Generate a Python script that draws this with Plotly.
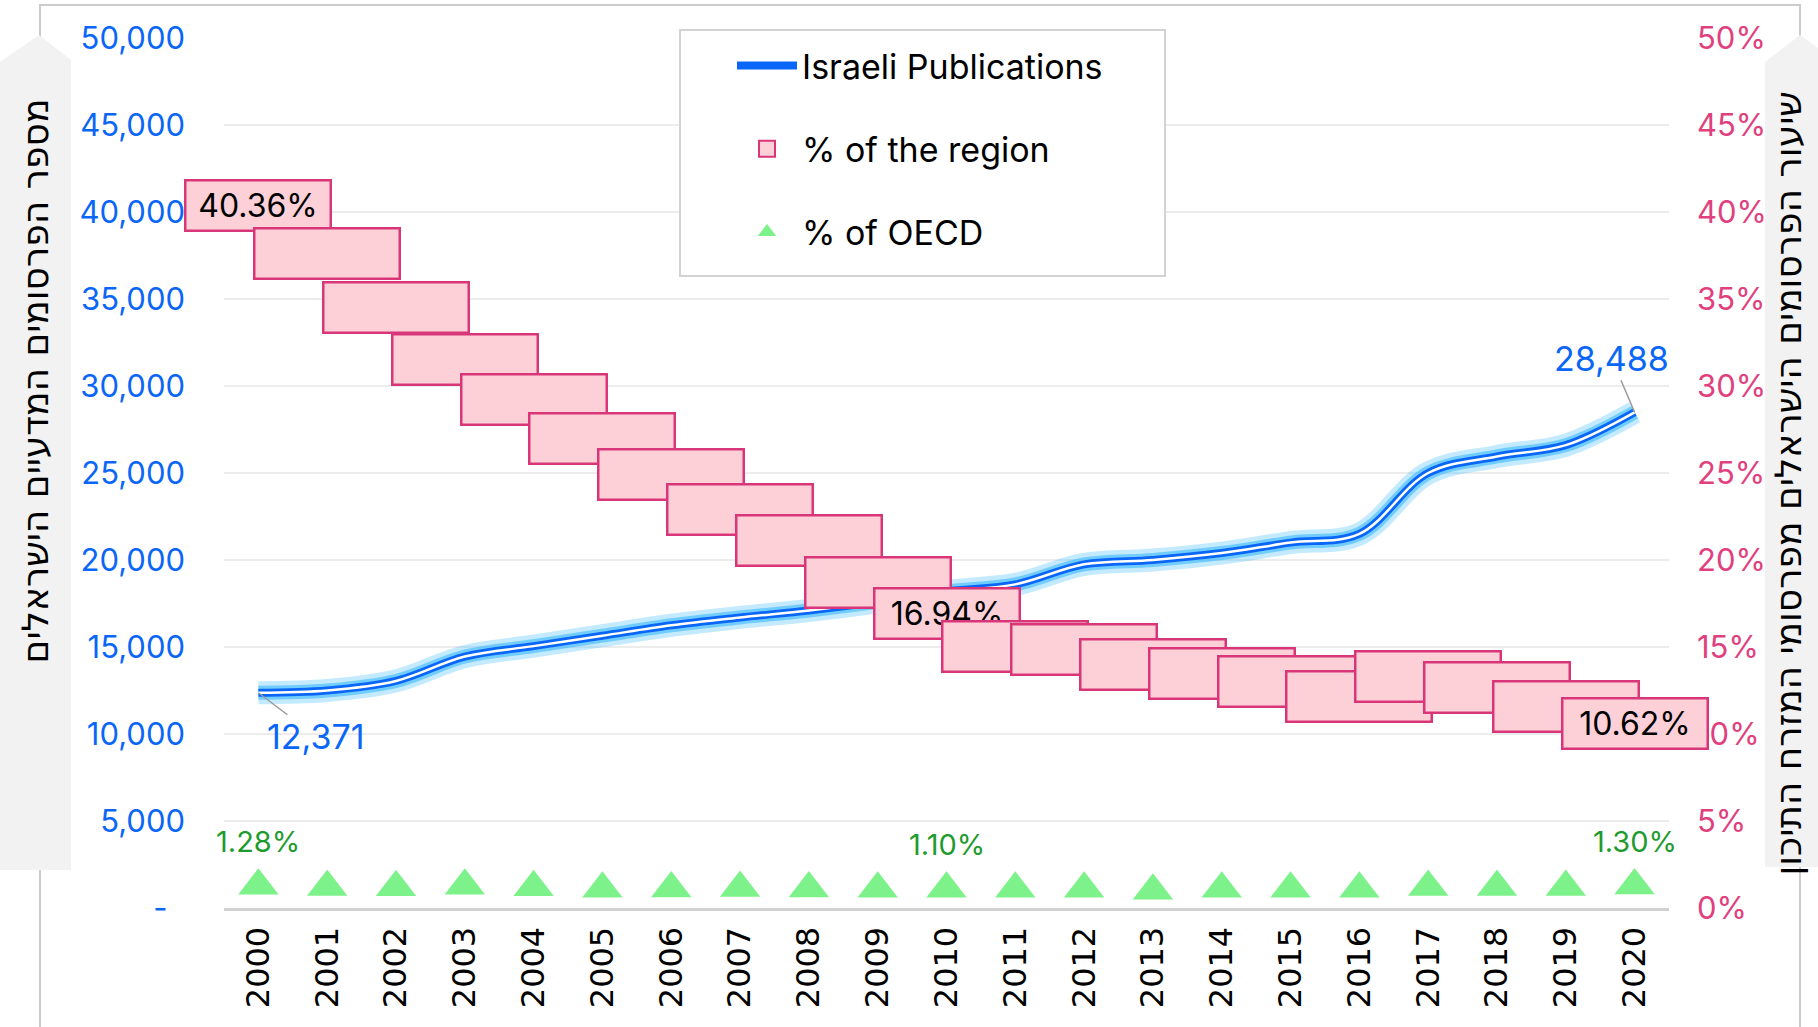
import plotly.graph_objects as go

# ---------------- data ----------------
years = ["2000", "2001", "2002", "2003", "2004", "2005", "2006", "2007", "2008", "2009",
         "2010", "2011", "2012", "2013", "2014", "2015", "2016", "2017", "2018", "2019", "2020"]
publications = [12371, 12500, 13050, 14450, 15050, 15650, 16250, 16700, 17100, 17600,
                18200, 18600, 19750, 20000, 20400, 21000, 21500, 25000, 25950, 26600, 28488]
region_pct = [40.36, 37.6, 34.5, 31.5, 29.2, 27.0, 24.9, 22.9, 21.1, 18.7,
              16.94, 15.05, 14.84, 14.0, 13.5, 13.04, 12.17, 13.3, 12.7, 11.58, 10.62]
oecd_pct = [1.28, 1.21, 1.19, 1.28, 1.19, 1.10, 1.12, 1.15, 1.12, 1.10,
            1.10, 1.10, 1.10, 0.99, 1.10, 1.10, 1.10, 1.21, 1.21, 1.21, 1.30]
left_tickvals = [0, 5000, 10000, 15000, 20000, 25000, 30000, 35000, 40000, 45000, 50000]
left_ticktext = ["-\u00a0\u00a0", "5,000", "10,000", "15,000", "20,000", "25,000",
                 "30,000", "35,000", "40,000", "45,000", "50,000"]
right_tickvals = [0, 5, 10, 15, 20, 25, 30, 35, 40, 45, 50]
right_ticktext = ["0%", "5%", "10%", "15%", "20%", "25%", "30%", "35%", "40%", "45%", "50%"]
labelled_idx = [0, 10, 20]          # points whose values are printed
series_names = ["Israeli Publications", "% of the region", "% of OECD"]
left_title = "מספר הפרסומים המדעיים הישראלים"
right_title = "שיעור הפרסומים הישראלים מפרסומי המזרח התיכון"

# ---------------- style ----------------
W, H = 1818, 1027
ML, MR, MT, MB = 224, 149, 38, 119
BLUE = "#0a66f7"
PINK_TXT = "#e0417e"
PINK_FILL = "#fdd0d8"
PINK_LINE = "#d9367a"
GREEN = "#7ef28a"
GREEN_TXT = "#1e9b2e"
NUMFONT = "Inter"


def px(X):
    return (X - ML) / (W - ML - MR)


def py(Y):
    return (H - MB - Y) / (H - MT - MB)


fig = go.Figure()

# glow under the publications line
fig.add_trace(go.Scatter(x=years, y=publications, mode="lines", showlegend=False, hoverinfo="skip",
                         line=dict(color="rgba(60,185,255,0.30)", width=23, shape="spline")))
fig.add_trace(go.Scatter(x=years, y=publications, mode="lines", showlegend=False, hoverinfo="skip",
                         line=dict(color="rgba(60,185,255,0.60)", width=14, shape="spline")))
fig.add_trace(go.Scatter(x=years, y=publications, mode="lines", name=series_names[0],
                         legendgroup="a", line=dict(color=BLUE, width=8, shape="spline")))
fig.add_trace(go.Scatter(x=years, y=publications, mode="lines", showlegend=False, legendgroup="a",
                         hoverinfo="skip", line=dict(color="white", width=2.5, shape="spline")))
fig.add_trace(go.Scatter(x=years, y=region_pct, yaxis="y2", mode="markers", name=series_names[1],
                         legendgroup="b",
                         marker=dict(symbol="square", size=18, color=PINK_FILL,
                                     line=dict(color=PINK_LINE, width=2))))
fig.add_trace(go.Scatter(x=years, y=oecd_pct, yaxis="y2", mode="markers", name=series_names[2],
                         legendgroup="c",
                         marker=dict(symbol="triangle-up", size=35, color=GREEN,
                                     line=dict(width=0))))

annotations = []
# pink label boxes for the region series
for i, v in enumerate(region_pct):
    annotations.append(dict(
        x=i, y=v, xref="x", yref="y2", showarrow=False,
        text=(f"{v:.2f}%" if i in labelled_idx else "\u00a0"),
        font=dict(family=NUMFONT, size=32, color="black"),
        bgcolor=PINK_FILL, bordercolor=PINK_LINE, borderwidth=2.5, borderpad=0,
        width=143, height=48, align="center", valign="middle"))
# OECD labels
for i in labelled_idx:
    annotations.append(dict(
        x=i, y=oecd_pct[i], xref="x", yref="y2", showarrow=False, yshift=44,
        text=f"{oecd_pct[i]:.2f}%", font=dict(family=NUMFONT, size=29, color=GREEN_TXT)))
# publication end labels
annotations.append(dict(x=0, y=publications[0], xref="x", yref="y",
                        text=f"{publications[0]:,}", showarrow=True, arrowhead=0,
                        arrowwidth=1.5, arrowcolor="#9a9a9a", ax=58, ay=44, standoff=0,
                        font=dict(family=NUMFONT, size=34, color=BLUE)))
annotations.append(dict(x=len(years) - 1, y=publications[-1], xref="x", yref="y",
                        text=f"{publications[-1]:,}", showarrow=True, arrowhead=0,
                        arrowwidth=1.5, arrowcolor="#9a9a9a", ax=-23, ay=-54, standoff=0,
                        font=dict(family=NUMFONT, size=34, color=BLUE)))
# axis titles
annotations.append(dict(x=px(12), y=py(381), xref="paper", yref="paper", showarrow=False,
                        text=left_title, textangle=-90,
                        font=dict(family="DejaVu Sans", size=36, color="black")))
annotations.append(dict(x=px(1810), y=py(484), xref="paper", yref="paper", showarrow=False,
                        text=right_title, textangle=-90,
                        font=dict(family="DejaVu Sans", size=36, color="black")))

shapes = [
    # outer frame
    dict(type="rect", xref="paper", yref="paper", x0=px(40), x1=px(1800), y0=py(1060), y1=py(5),
         line=dict(color="#cccccc", width=2), fillcolor="rgba(0,0,0,0)", layer="below"),
    # title bands
    dict(type="path", xref="paper", yref="paper", layer="below",
         path=f"M{px(0)},{py(62)} L{px(39)},{py(35)} L{px(71)},{py(60)} L{px(71)},{py(870)} L{px(0)},{py(870)} Z",
         fillcolor="#f2f2f2", line=dict(width=0)),
    dict(type="path", xref="paper", yref="paper", layer="below",
         path=f"M{px(1765)},{py(62)} L{px(1800)},{py(35)} L{px(1818)},{py(48)} L{px(1818)},{py(867)} L{px(1765)},{py(867)} Z",
         fillcolor="#f2f2f2", line=dict(width=0)),
    # legend box
    dict(type="rect", xref="paper", yref="paper", layer="above",
         x0=px(680), x1=px(1165), y0=py(276), y1=py(30),
         fillcolor="white", line=dict(color="#d3d3d3", width=2)),
]

fig.update_layout(
    width=W, height=H,
    margin=dict(l=ML, r=MR, t=MT, b=MB, pad=0),
    paper_bgcolor="white", plot_bgcolor="white",
    font=dict(family=NUMFONT, size=30, color="black"),
    showlegend=True,
    legend=dict(x=px(732), y=py(37), xanchor="left", yanchor="top",
                bgcolor="rgba(0,0,0,0)", borderwidth=0,
                font=dict(family=NUMFONT, size=34, color="black"),
                traceorder="grouped", tracegroupgap=36, itemwidth=60),
    xaxis=dict(type="category", range=[-0.5, 20.5], showgrid=False,
               showline=True, linecolor="#d2d2d2", linewidth=3,
               ticks="", tickangle=-90, ticklabelstandoff=3,
               tickfont=dict(family="DejaVu Sans", size=32, color="black")),
    yaxis=dict(range=[0, 50000], tickvals=left_tickvals, ticktext=left_ticktext,
               showgrid=True, gridcolor="#ececec", gridwidth=2, zeroline=False,
               ticks="", ticklabelstandoff=38,
               tickfont=dict(family=NUMFONT, size=31, color=BLUE)),
    yaxis2=dict(range=[0, 50], overlaying="y", side="right", tickvals=right_tickvals,
                ticktext=right_ticktext, showgrid=False, zeroline=False,
                ticks="", ticklabelstandoff=27,
                tickfont=dict(family=NUMFONT, size=31, color=PINK_TXT)),
    annotations=annotations,
    shapes=shapes,
)

fig.write_html("out.html", config={"displayModeBar": False},
               post_script="document.body.style.margin='0';")
